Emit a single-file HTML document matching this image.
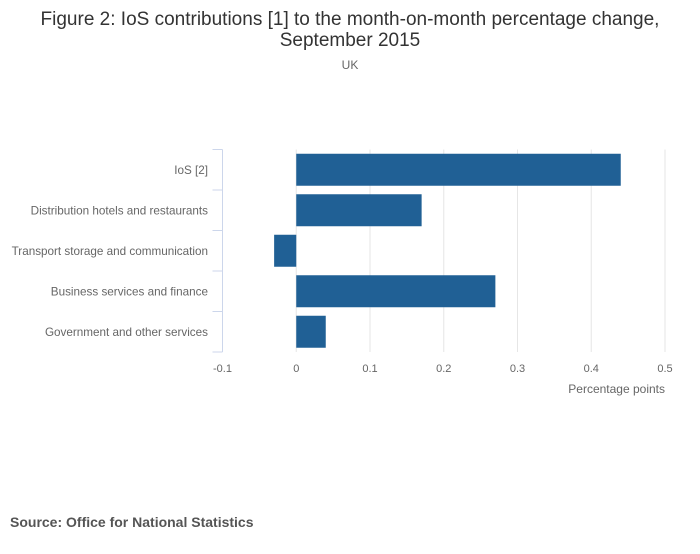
<!DOCTYPE html>
<html><head><meta charset="utf-8"><style>
body{margin:0;background:#fff;font-family:"Liberation Sans",sans-serif;}
svg text{font-family:"Liberation Sans",sans-serif;}
</style></head><body>
<svg width="700" height="549" viewBox="0 0 700 549">
<text x="350" y="25" text-anchor="middle" font-size="19" fill="#333">Figure 2: IoS contributions [1] to the month-on-month percentage change,</text>
<text x="350" y="46" text-anchor="middle" font-size="19" fill="#333">September 2015</text>
<text x="350" y="69" text-anchor="middle" font-size="12" fill="#666">UK</text>
<g id="grid"></g><g id="bars"></g><g id="axes"></g>
<text x="665" y="393" text-anchor="end" font-size="12" fill="#666">Percentage points</text>
<text x="10" y="527" font-size="14" font-weight="bold" fill="#555">Source: Office for National Statistics</text>
</svg>
<script>
const categories=["IoS [2]","Distribution hotels and restaurants","Transport storage and communication","Business services and finance","Government and other services"];
const values=[0.44,0.17,-0.03,0.27,0.04];
const ticks=[-0.1,0,0.1,0.2,0.3,0.4,0.5];
const tickLabels=["-0.1","0","0.1","0.2","0.3","0.4","0.5"];
const NS="http://www.w3.org/2000/svg";
const x0=222.5,x1=665,vmin=-0.1,vmax=0.5,yTop=149.5,yBot=352;
const xs=v=>x0+(v-vmin)/(vmax-vmin)*(x1-x0);
const band=(yBot-yTop)/categories.length;
function mk(t,a,p){const e=document.createElementNS(NS,t);for(const k in a)e.setAttribute(k,a[k]);document.getElementById(p).appendChild(e);return e;}
ticks.forEach((t,i)=>{
 if(t!==vmin){const g=mk('line',{x1:xs(t),x2:xs(t),y1:yTop,y2:yBot,stroke:'#e6e6e6','stroke-width':1},'grid');
 
 }
 const l=mk('text',{x:xs(t),y:372,'text-anchor':'middle','font-size':11,fill:'#666'},'axes');
 l.textContent=tickLabels[i];
 
 
});
const ax=mk('line',{x1:x0,x2:x0,y1:yTop,y2:yBot,stroke:'#ccd6eb','stroke-width':1},'axes');


for(let i=0;i<=categories.length;i++){
 const y=yTop+i*band;
 const tk=mk('line',{x1:x0-10,x2:x0,y1:y,y2:y,stroke:'#ccd6eb','stroke-width':1},'axes');
 
 
}
categories.forEach((c,i)=>{
 const yc=yTop+band*(i+0.5);
 const l=mk('text',{x:208,y:yc+4,'text-anchor':'end','font-size':11.7,fill:'#666'},'axes');
 l.textContent=c;
 
 
 const v=values[i],a=xs(Math.min(0,v)),b=xs(Math.max(0,v));
 const r=mk('rect',{x:a,y:yc-16,width:b-a,height:32,fill:'#206095'},'bars');
 
 
});
</script>
</body></html>
